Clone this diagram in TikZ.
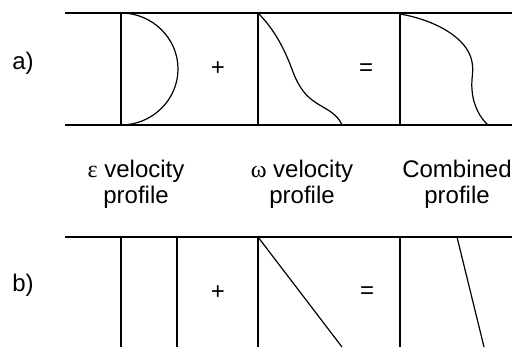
\documentclass[tikz,border=0pt]{standalone}
\usepackage{fontspec}
\setmainfont{Liberation Sans}
\newfontfamily\greekfont{Liberation Serif}

\begin{document}
\begin{tikzpicture}[x=0.5pt, y=-0.5pt,
      every node/.style={font=\fontsize{12}{13}\selectfont, inner sep=0pt},
      wall/.style={line width=1pt},
      plate/.style={line width=0.6pt},
      profile/.style={line width=0.6pt}]
    \useasboundingbox (0,0) rectangle (512,347);
    % channel walls
    \foreach \y in {13,125,237} {
      \draw[wall] (65,\y) -- (512,\y);
    }
    % a) parabolic case
    \foreach \x in {121,258,400} {
      \draw[plate] (\x,13) -- (\x,125);
    }
    \node (casea) at (23,63) {a)};
    \draw[profile] (121,13) .. controls (152,13) and (178,38) .. (178,69)
      .. controls (178,100) and (152,125) .. (121,125);
    \node (plusa) at (218,69) {+};
    \draw[profile] (258,13) .. controls (275,30) and (285,50) .. (293,72)
      .. controls (303,98) and (315,102) .. (328,110)
      .. controls (336,115) and (340,120) .. (342,125);
    \node (eqa) at (366,70) {=};
    \draw[profile] (400,14) .. controls (435,20) and (468,38) .. (472,62)
      .. controls (474,72) and (471,78) .. (472,90)
      .. controls (473,105) and (480,118) .. (488,125);
    % captions
    \node[align=center] (epscap) at (136,184) {{\greekfont ε} velocity\\profile};
    \node[align=center] (omcap) at (302,184) {{\greekfont ω} velocity\\profile};
    \node[align=center] (combcap) at (457,184) {Combined\\profile};
    % b) plug and shear case
    \foreach \x in {121,177,258,400} {
      \draw[plate] (\x,237) -- (\x,347);
    }
    \node (caseb) at (23,285) {b)};
    \node (plusb) at (218,293) {+};
    \draw[profile] (258,237) -- (342,347);
    \node (eqb) at (367,293) {=};
    \draw[profile] (457,237) -- (484,347);
  \end{tikzpicture}
\end{document}
